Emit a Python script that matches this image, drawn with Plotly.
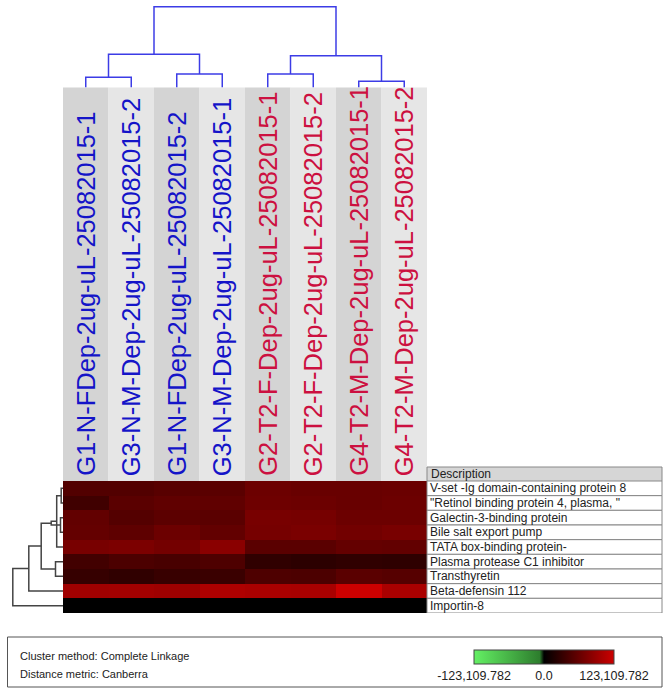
import plotly.graph_objects as go

W, H = 670, 696

samples = [
    "G1-N-FDep-2ug-uL-25082015-1", "G3-N-M-Dep-2ug-uL-25082015-2",
    "G1-N-FDep-2ug-uL-25082015-2", "G3-N-M-Dep-2ug-uL-25082015-1",
    "G2-T2-F-Dep-2ug-uL-25082015-1", "G2-T2-F-Dep-2ug-uL-25082015-2",
    "G4-T2-M-Dep-2ug-uL-25082015-1", "G4-T2-M-Dep-2ug-uL-25082015-2",
]
sample_colors = ["#1414c8"] * 4 + ["#cc1040"] * 4

proteins = [
    "V-set -Ig domain-containing protein 8",
    "\"Retinol binding protein 4, plasma, \"",
    "Galectin-3-binding protein",
    "Bile salt export pump",
    "TATA box-binding protein-",
    "Plasma protease C1 inhibitor",
    "Transthyretin",
    "Beta-defensin 112",
    "Importin-8",
]

# expression values (rows = proteins, cols = samples)
values = [
    [49500, 49500, 53100, 54300, 65200, 62800, 62800, 64000],
    [38600, 54300, 57900, 57900, 66400, 65200, 62800, 65200],
    [59100, 50700, 55500, 54300, 72400, 71200, 65200, 65200],
    [60400, 56700, 65200, 59100, 71200, 73600, 68800, 72400],
    [72400, 74800, 70000, 83300, 54300, 54300, 60400, 59100],
    [39800, 45900, 43500, 47100, 29000, 26600, 29000, 27800],
    [32600, 29000, 33800, 35000, 47100, 45900, 54300, 51900],
    [96600, 97800, 95400, 105000, 102600, 101400, 123100, 102600],
    [0, 0, 0, 0, 0, 0, 0, 0],
]
vmax = 123109.782

# column dendrogram merges: (left node, right node, height); leaves are 0..7
col_merges = [(0, 1, 10.2), (2, 3, 13.5), (4, 5, 13.5), (6, 7, 6.2),
              (8, 9, 33.2), (10, 11, 31.8), (12, 13, 80.8)]
# row dendrogram merges; leaves are 0..8
row_merges = [(0, 1, 1.8), (2, 3, 2.5), (9, 4, 6.3), (10, 11, 11.8),
              (5, 6, 7.5), (12, 13, 21.8), (14, 7, 34.2), (15, 8, 50.2)]

def dendro_segments(merges, n_leaves):
    pos = {i: float(i) for i in range(n_leaves)}
    hgt = {i: 0.0 for i in range(n_leaves)}
    a, b = [], []
    nid = n_leaves
    for l, r, h in merges:
        a += [pos[l], pos[l], pos[r], pos[r], None]
        b += [hgt[l], h, h, hgt[r], None]
        pos[nid] = (pos[l] + pos[r]) / 2
        hgt[nid] = h
        nid += 1
    return a, b

def py(p):
    return 1 - p / H

def px(p):
    return p / W

HM_L, HM_R, HM_T, HM_B = 63, 427, 481, 613
BAND_T = 87.5

fig = go.Figure()

fig.add_trace(go.Heatmap(
    z=values, x=list(range(len(samples))), y=list(range(len(proteins))),
    zmin=-vmax, zmax=vmax,
    colorscale=[[0, "rgb(100,240,100)"], [0.47, "rgb(45,125,45)"],
                [0.5, "rgb(0,0,0)"], [1, "rgb(204,0,0)"]],
    colorbar=dict(
        orientation="h", x=px(544), xanchor="center", y=py(650), yanchor="top",
        lenmode="pixels", len=140, thickness=14,
        outlinecolor="#444", outlinewidth=1,
        tickvals=[-vmax, 0, vmax],
        ticktext=["-123,109.782", "0.0", "123,109.782"],
        ticks="", tickfont=dict(size=12.5, color="#222"),
        xpad=0, ypad=0,
    ),
    xgap=0, ygap=0, hoverinfo="z",
))

cx, cy = dendro_segments(col_merges, len(samples))
fig.add_trace(go.Scatter(x=cx, y=cy, mode="lines", xaxis="x", yaxis="y3",
                         line=dict(color="#3c3ce6", width=1.5), hoverinfo="skip"))

rx, ry = dendro_segments(row_merges, len(proteins))
fig.add_trace(go.Scatter(x=ry, y=rx, mode="lines", xaxis="x2", yaxis="y",
                         line=dict(color="#444444", width=1.5), hoverinfo="skip"))

shapes = []
annotations = []

# grey bands behind column labels
for i, name in enumerate(samples):
    shapes.append(dict(type="rect", xref="x", yref="paper",
                       x0=i - 0.5, x1=i + 0.5, y0=py(HM_T), y1=py(BAND_T),
                       fillcolor="#d4d4d4" if i % 2 == 0 else "#e6e6e6",
                       line=dict(width=0), layer="below"))
    annotations.append(dict(x=i, xref="x", y=py(HM_T - 3), yref="paper",
                            text=name, textangle=-90, showarrow=False,
                            xanchor="center", yanchor="bottom",
                            font=dict(size=25.5, color=sample_colors[i])))

# description table
TL, TR = 427, 662
shapes.append(dict(type="rect", xref="paper", yref="paper",
                   x0=px(TL), x1=px(TR), y0=py(HM_T), y1=py(467),
                   fillcolor="#d6d6d6", line=dict(color="#888", width=1)))
annotations.append(dict(x=px(TL + 2), xref="paper", y=py(474), yref="paper",
                        text="Description", showarrow=False,
                        xanchor="left", yanchor="middle",
                        font=dict(size=12, color="#222")))
for j, p in enumerate(proteins):
    shapes.append(dict(type="rect", xref="paper", yref="y",
                       x0=px(TL), x1=px(TR), y0=j - 0.5, y1=j + 0.5,
                       fillcolor="white", line=dict(color="#888", width=1)))
    annotations.append(dict(x=px(TL + 1), xref="paper", y=j, yref="y",
                            text=p, showarrow=False,
                            xanchor="left", yanchor="middle",
                            font=dict(size=12, color="#222")))

# legend box
shapes.append(dict(type="rect", xref="paper", yref="paper",
                   x0=px(7.5), x1=px(662), y0=py(687), y1=py(637),
                   line=dict(color="#555", width=1)))
annotations.append(dict(x=px(18), xref="paper", y=py(656), yref="paper",
                        text="Cluster method: Complete Linkage", showarrow=False,
                        xanchor="left", yanchor="middle",
                        font=dict(size=11, color="#222")))
annotations.append(dict(x=px(18), xref="paper", y=py(674), yref="paper",
                        text="Distance metric: Canberra", showarrow=False,
                        xanchor="left", yanchor="middle",
                        font=dict(size=11, color="#222")))

hidden = dict(visible=False, showgrid=False, zeroline=False)
fig.update_layout(
    width=W, height=H,
    margin=dict(l=0, r=0, t=0, b=0, autoexpand=False),
    paper_bgcolor="white", plot_bgcolor="white",
    font=dict(family="Arial, Liberation Sans, sans-serif"),
    showlegend=False,
    xaxis=dict(domain=[px(HM_L), px(HM_R)], range=[-0.5, 7.5], **hidden),
    yaxis=dict(domain=[py(HM_B), py(HM_T)], range=[8.5, -0.5], **hidden),
    xaxis2=dict(domain=[0, px(HM_L)], range=[HM_L, 0], anchor="y", **hidden),
    yaxis3=dict(domain=[py(BAND_T), py(4.5)], range=[0, 83], anchor="x", **hidden),
    shapes=shapes,
    annotations=annotations,
)

# drop the default page margin so the figure sits at the window origin
fig.write_html("out.html", config={"displayModeBar": False},
               post_script="document.body.style.margin='0';document.body.style.overflow='hidden';")
